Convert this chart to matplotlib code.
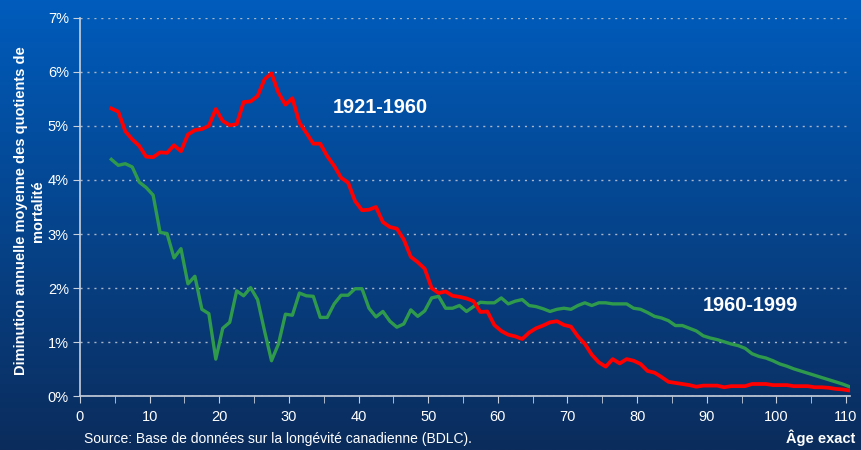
import numpy as np
import matplotlib
matplotlib.use("Agg")
import matplotlib.pyplot as plt
from matplotlib.colors import LinearSegmentedColormap
from matplotlib.ticker import MultipleLocator, FuncFormatter

plt.rcParams['font.family'] = ['Liberation Sans', 'DejaVu Sans']

ages = list(range(4, 111))

red_1921_1960 = [
    5.32, 5.26, 4.90, 4.75, 4.63, 4.43, 4.42, 4.51, 4.50, 4.64,   # 4-13
    4.53, 4.84, 4.92, 4.94, 5.00, 5.31, 5.09, 5.01, 5.03, 5.44,   # 14-23
    5.45, 5.55, 5.86, 5.97, 5.61, 5.39, 5.51, 5.06, 4.87, 4.67,   # 24-33
    4.67, 4.44, 4.26, 4.04, 3.95, 3.61, 3.44, 3.45, 3.50, 3.22,   # 34-43
    3.13, 3.10, 2.90, 2.58, 2.48, 2.36, 2.00, 1.91, 1.94, 1.86,   # 44-53
    1.84, 1.81, 1.76, 1.56, 1.57, 1.32, 1.21, 1.14, 1.11, 1.06,   # 54-63
    1.18, 1.26, 1.31, 1.37, 1.39, 1.32, 1.29, 1.11, 0.97, 0.77,   # 64-73
    0.63, 0.55, 0.69, 0.61, 0.69, 0.66, 0.60, 0.47, 0.44, 0.36,   # 74-83
    0.27, 0.25, 0.23, 0.21, 0.18, 0.20, 0.20, 0.20, 0.17, 0.19,   # 84-93
    0.19, 0.19, 0.23, 0.23, 0.23, 0.21, 0.21, 0.21, 0.19, 0.19,   # 94-103
    0.19, 0.17, 0.17, 0.16, 0.14, 0.13, 0.11,                     # 104-110
]

green_1960_1999 = [
    4.38, 4.27, 4.30, 4.24, 3.96, 3.86, 3.72, 3.03, 3.01, 2.56,   # 4-13
    2.73, 2.08, 2.22, 1.61, 1.53, 0.69, 1.26, 1.37, 1.95, 1.86,   # 14-23
    2.01, 1.79, 1.21, 0.66, 0.97, 1.52, 1.50, 1.91, 1.86, 1.85,   # 24-33
    1.46, 1.46, 1.71, 1.87, 1.87, 1.99, 1.99, 1.63, 1.47, 1.57,   # 34-43
    1.39, 1.28, 1.34, 1.60, 1.48, 1.58, 1.82, 1.85, 1.63, 1.63,   # 44-53
    1.68, 1.57, 1.66, 1.74, 1.73, 1.73, 1.82, 1.71, 1.76, 1.79,   # 54-63
    1.68, 1.66, 1.62, 1.57, 1.61, 1.63, 1.61, 1.68, 1.73, 1.68,   # 64-73
    1.73, 1.73, 1.71, 1.71, 1.71, 1.63, 1.61, 1.55, 1.48, 1.45,   # 74-83
    1.40, 1.31, 1.31, 1.26, 1.21, 1.12, 1.08, 1.05, 1.01, 0.97,   # 84-93
    0.94, 0.89, 0.79, 0.74, 0.71, 0.66, 0.60, 0.56, 0.51, 0.47,   # 94-103
    0.43, 0.39, 0.35, 0.31, 0.27, 0.23, 0.18,                     # 104-110
]

series_labels = ["1921-1960", "1960-1999"]
x_label = "Âge exact"
y_label = "Diminution annuelle moyenne des quotients de\nmortalité"
source = "Source: Base de données sur la longévité canadienne (BDLC)."

# points sit at the middle of each age interval
xpos = np.array(ages) + 0.5

fig = plt.figure(figsize=(8.62, 4.5), dpi=100)

# gradient background
bg = fig.add_axes([0, 0, 1, 1], zorder=0)
cmap = LinearSegmentedColormap.from_list("bg", ["#005cbc", "#0b2c5c"])
grad = np.linspace(0, 1, 256).reshape(-1, 1)
bg.imshow(grad, aspect='auto', cmap=cmap, extent=[0, 1, 0, 1])
bg.set_axis_off()

ax = fig.add_axes([0.0928, 0.119, 0.8935, 0.842], zorder=1)
ax.patch.set_alpha(0)

ax.plot(xpos, red_1921_1960, color="#ff0000", lw=2.7, solid_joinstyle='round', zorder=3)
ax.plot(xpos, green_1960_1999, color="#2f9a4c", lw=2.4, solid_joinstyle='round', zorder=2)

ax.set_xlim(0, 110.6)
ax.set_ylim(0, 7)
ax.xaxis.set_major_locator(MultipleLocator(10))
ax.xaxis.set_minor_locator(MultipleLocator(5))
ax.yaxis.set_major_locator(MultipleLocator(1))
ax.yaxis.set_major_formatter(FuncFormatter(lambda v, p: f"{int(round(v))}%"))

ax.grid(axis='y', which='major', color="#a9b6c9", linestyle=(0, (1.5, 3.5)), linewidth=1.0)
ax.set_axisbelow(True)

for s in ['top', 'right']:
    ax.spines[s].set_visible(False)
for s in ['left', 'bottom']:
    ax.spines[s].set_color("#c8d0dc")
    ax.spines[s].set_linewidth(1.2)

ax.tick_params(axis='both', which='both', colors="#c8d0dc", labelcolor="white", direction='out')
ax.tick_params(axis='x', which='major', length=5, labelsize=10.5, pad=5)
ax.tick_params(axis='x', which='minor', length=5)
ax.tick_params(axis='y', which='major', length=5, labelsize=10.5, pad=3)

fig.text(0.034, 0.531, y_label, color="white", fontsize=10.5, fontweight='bold',
         rotation=90, ha='center', va='center', multialignment='center', linespacing=1.3)

ax.text(43.1, 5.34, series_labels[0], color="white", fontsize=14.3, fontweight='bold', ha='center', va='center')
ax.text(96.3, 1.68, series_labels[1], color="white", fontsize=14.3, fontweight='bold', ha='center', va='center')

fig.text(0.097, 0.008, source, color="white", fontsize=10, ha='left', va='bottom')
fig.text(0.992, 0.008, x_label, color="white", fontsize=10.5, fontweight='bold', ha='right', va='bottom')

fig.savefig("out.png", dpi=100)
